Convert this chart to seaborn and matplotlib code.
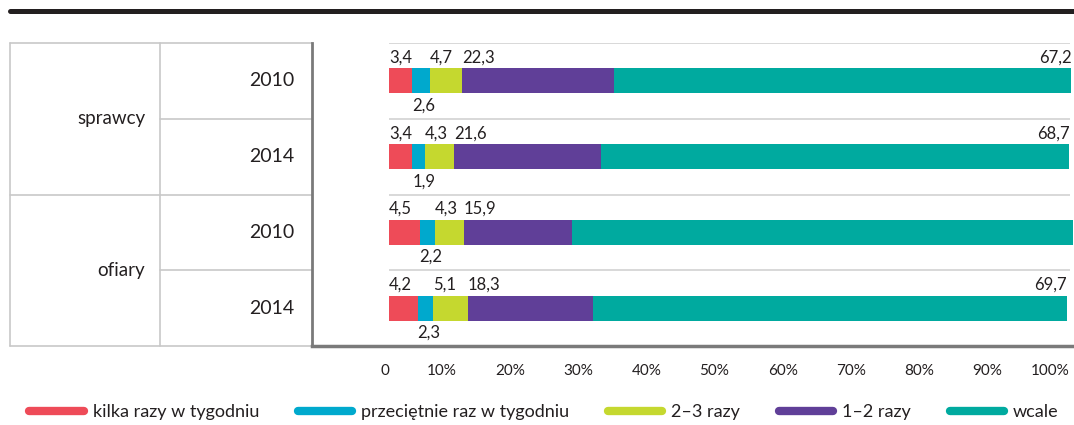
import pandas as pd
import seaborn as sns
import matplotlib.pyplot as plt
from matplotlib.lines import Line2D
from matplotlib import transforms

# dane
grupy = ['sprawcy', 'ofiary']
lata = ['2010', '2014', '2010', '2014']
wiersze = ['sprawcy 2010', 'sprawcy 2014', 'ofiary 2010', 'ofiary 2014']
kategorie = ['kilka razy w tygodniu', 'przeciętnie raz w tygodniu',
             '2–3 razy', '1–2 razy', 'wcale']
kilka = [3.4, 3.4, 4.5, 4.2]
przecietnie = [2.6, 1.9, 2.2, 2.3]
dwa_trzy = [4.7, 4.3, 4.3, 5.1]
jeden_dwa = [22.3, 21.6, 15.9, 18.3]
wcale = [67.2, 68.7, 73.6, 69.7]
kolory = ['#ee4b58', '#00a9cd', '#c5d82f', '#603f98', '#00aa9f']

sns.set_style('white')
plt.rcParams['font.family'] = ['Lato', 'DejaVu Sans']
tekst = '#231f20'
szary = '#7a7a7a'

dane = pd.DataFrame({'wiersz': wiersze})
serie = [kilka, przecietnie, dwa_trzy, jeden_dwa, wcale]
for k, s in zip(kategorie, serie):
    dane[k] = s
skum = dane[kategorie].cumsum(axis=1)

fig = plt.figure(figsize=(10.74, 4.25), dpi=100)
ax = fig.add_axes([312 / 1074, 1 - 346 / 425, 760 / 1074, 303 / 425])

# stacked bars: draw cumulative totals from the longest one down
for k, c in reversed(list(zip(kategorie, kolory))):
    sns.barplot(x=skum[k], y=dane['wiersz'], color=c, orient='h',
                width=0.33, saturation=1, linewidth=0, ax=ax, clip_on=False)

h = 0.33
for i in range(len(wiersze)):
    for j, k in enumerate(kategorie):
        v = dane.loc[i, k]
        lewo = skum.loc[i, k] - v
        txt = f'{v:.1f}'.replace('.', ',')
        if j == 4:
            ax.annotate(txt, (skum.loc[i, k], i - h / 2), xytext=(0, 2),
                        textcoords='offset points', ha='right', va='bottom',
                        fontsize=12, color=tekst)
        elif j == 1:
            ax.annotate(txt, (lewo, i + h / 2), xytext=(0, -3),
                        textcoords='offset points', ha='left', va='top',
                        fontsize=12, color=tekst)
        else:
            ax.annotate(txt, (lewo, i - h / 2), xytext=(0, 2),
                        textcoords='offset points', ha='left', va='bottom',
                        fontsize=12, color=tekst)

ax.set_xlim(-11.3, 100.3)
ax.set_ylim(3.5, -0.5)
ax.hlines([-0.5, 0.5, 1.5, 2.5], 0, 100, color='#d2d2d2', lw=1.2)

ax.set_xticks(range(0, 101, 10))
ax.set_xticklabels(['0'] + [f'{v}%' for v in range(10, 101, 10)],
                   fontsize=11, color=tekst, ha='right')
ax.tick_params(axis='x', direction='out', length=6, width=1.5, color=szary, pad=7)
ax.set_yticks([])
ax.set_xlabel('')
ax.set_ylabel('')
for s in ['top', 'right']:
    ax.spines[s].set_visible(False)
ax.spines['left'].set_color(szary)
ax.spines['left'].set_linewidth(2)
ax.spines['bottom'].set_color(szary)
ax.spines['bottom'].set_linewidth(2.5)

# table on the left
tr = transforms.blended_transform_factory(fig.transFigure, ax.transData)
x0, x1, x2 = 10 / 1074, 160 / 1074, 312 / 1074
linia = dict(color='#c8c8c8', lw=1.2, transform=tr, clip_on=False)
for y in [-0.5, 1.5, 3.5]:
    ax.plot([x0, x2], [y, y], **linia)
for y in [0.5, 2.5]:
    ax.plot([x1, x2], [y, y], **linia)
for x in [x0, x1]:
    ax.plot([x, x], [-0.5, 3.5], **linia)
for i, rok in enumerate(lata):
    ax.text(294 / 1074, i, rok, transform=tr, ha='right', va='center',
            fontsize=14, color=tekst)
for i, g in enumerate(grupy):
    ax.text(145 / 1074, 2 * i + 0.5, g, transform=tr, ha='right',
            va='center', fontsize=13.5, color=tekst)

fig.add_artist(Line2D([10 / 1074, 1], [1 - 11 / 425] * 2, color=tekst, lw=3.6))

uchwyty = [Line2D([0], [0], color=c, lw=6, solid_capstyle='round')
           for c in kolory]
fig.legend(uchwyty, kategorie, loc='center', bbox_to_anchor=(544 / 1074, 1 - 412 / 425),
           ncol=5, frameon=False, fontsize=13, handlelength=3.0,
           handletextpad=0.5, columnspacing=2.15, labelcolor=tekst)

fig.savefig('out.png', dpi=100)
